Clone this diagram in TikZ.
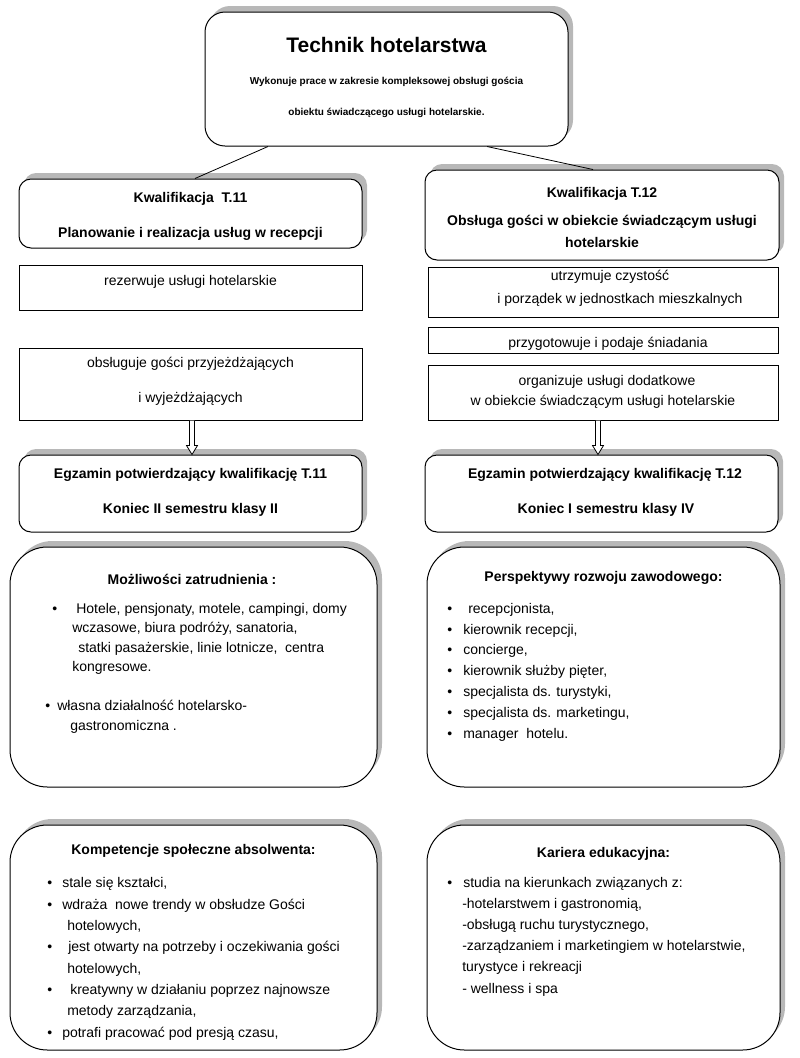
\documentclass[tikz,border=0pt]{standalone}
\usepackage{fontspec}
\setmainfont{Liberation Sans}
\usetikzlibrary{calc,shadows}

\newlength\unitpx
\setlength\unitpx{0.75pt}
% list lines: indent, bullet + indent
\newcommand{\li}[2]{\hspace*{#1\unitpx}#2}
\newcommand{\bli}[3]{\rlap{\hspace*{#1\unitpx}\textbullet}\hspace*{#2\unitpx}#3}
% hollow arrow between two named coordinates
\newcommand{\hollowarrow}[2]{%
  \draw [fill=white,line width=0.6pt] ($(#1)+(-2.5,0)$) -- ($(#2)+(-2.5,-9)$) -- ($(#2)+(-5.5,-9)$) -- (#2)
    -- ($(#2)+(5.5,-9)$) -- ($(#2)+(2.5,-9)$) -- ($(#1)+(2.5,0)$);}

\tikzset{
  box/.style 2 args={draw, fill=white, line width=0.75pt, inner sep=0pt,
    minimum width=#1*0.75pt, minimum height=#2*0.75pt},
  shad/.style={drop shadow={shadow xshift=3.75pt, shadow yshift=4.5pt, fill=black!28, opacity=1}},
  txt/.style={inner sep=0pt, anchor=base, font=\fontsize{10.5}{12}\selectfont},
  ttl/.style={inner sep=0pt, anchor=base, font=\fontsize{10.5}{12}\selectfont\bfseries},
  % anchored at the baseline of the last line
  lst/.style={inner sep=0pt, anchor=base west, align=left},
}

\begin{document}
\begin{tikzpicture}[x=0.75pt,y=0.75pt,yscale=-1,xscale=1]
\useasboundingbox (0,0) rectangle (800,1058);

% top box
\node [box={363}{134}, rounded corners=15pt, shad] (top) at (386.5,79) {};

% left column
\node [box={343}{69}, rounded corners=9pt, shad] (k11) at (190.5,213.5) {};
\node [box={343}{45}] (rez) at (190.5,287.5) {};
\node [box={343}{72}] (obs) at (190.5,384) {};
\node [box={343}{77}, rounded corners=9pt, shad] (eg11) at (190.5,493.5) {};

% right column
\node [box={354}{90}, rounded corners=9pt, shad] (k12) at (602,215) {};
\node [box={350}{50}] (utr) at (603,292) {};
\node [box={350}{26}] (prz) at (603,340) {};
\node [box={350}{55}] (org) at (603,392.5) {};
\node [box={353}{77}, rounded corners=9pt, shad] (eg12) at (601.5,493.5) {};

% lower boxes
\node [box={367}{240}, rounded corners=28pt, shad] (moz) at (193.5,667) {};
\node [box={353}{240}, rounded corners=28pt, shad] (per) at (603.5,667) {};
\node [box={367}{225}, rounded corners=28pt, shad] (kom) at (193.5,937.5) {};
\node [box={353}{225}, rounded corners=28pt, shad] (kar) at (603.5,937.5) {};

% connectors
\draw [line width=0.6pt] ($(top.south)+(-118.5,0)$) -- ($(k11.north)+(4.5,0)$);
\draw [line width=0.6pt] ($(top.south)+(100.5,0)$) -- ($(k12.north)+(-9,0)$);
\coordinate (a11) at ($(obs.south)+(1.5,0)$);
\coordinate (b11) at ($(eg11.north)+(1.5,0)$);
\coordinate (a12) at ($(org.south)+(-5,0)$);
\coordinate (b12) at ($(eg12.north |- eg11.north)+(-3.5,0)$);
\hollowarrow{a11}{b11}
\hollowarrow{a12}{b12}

% Text Node
\node [ttl, font=\fontsize{15.75}{18}\selectfont\bfseries] (t1) at (386.5,52) {Technik hotelarstwa};
\node [ttl, font=\fontsize{7.5}{9}\selectfont\bfseries] (t2) at (386.5,84) {Wykonuje prace w zakresie kompleksowej obsługi gościa};
\node [ttl, font=\fontsize{7.5}{9}\selectfont\bfseries] (t3) at (386.5,115) {obiektu świadczącego usługi hotelarskie.};

% Text Node
\node [ttl] (k11a) at (190.5,202) {Kwalifikacja\ \ T.11};
\node [ttl] (k11b) at (190.5,237) {Planowanie i realizacja usług w recepcji};
\node [txt] (reza) at (190.5,285) {rezerwuje usługi hotelarskie};
\node [txt] (obsa) at (190.5,367) {obsługuje gości przyjeżdżających};
\node [txt] (obsb) at (190.5,402) {i wyjeżdżających};
\node [ttl] (eg11a) at (190.5,478) {Egzamin potwierdzający kwalifikację T.11};
\node [ttl] (eg11b) at (190.5,513) {Koniec II semestru klasy II};

% Text Node
\node [ttl] (k12a) at (602,197) {Kwalifikacja T.12};
\node [ttl] (k12b) at (602,225) {Obsługa gości w obiekcie świadczącym usługi};
\node [ttl] (k12c) at (602,247) {hotelarskie};
\node [txt] (utra) at (610,280) {utrzymuje czystość};
\node [txt] (utrb) at (620,303) {i porządek w jednostkach mieszkalnych};
\node [txt] (prza) at (608,347) {przygotowuje i podaje śniadania};
\node [txt] (orga) at (607,385) {organizuje usługi dodatkowe};
\node [txt] (orgb) at (603,405) {w obiekcie świadczącym usługi hotelarskie};
\node [ttl] (eg12a) at (605,478) {Egzamin potwierdzający kwalifikację T.12};
\node [ttl] (eg12b) at (606,513) {Koniec I semestru klasy IV};

% Text Node
\node [ttl] (moza) at (192,584) {Możliwości zatrudnienia :};
\node [lst, font=\fontsize{10.5}{14.6}\selectfont] (mozl) at (45,730) {%
  \bli{7}{31}{Hotele, pensjonaty, motele, campingi, domy}\\
  \li{27}{wczasowe, biura podróży, sanatoria,}\\
  \li{33}{statki pasażerskie, linie lotnicze,\ \ centra}\\
  \li{27}{kongresowe.}\\
  \mbox{}\\
  \bli{0}{12}{własna działalność hotelarsko-}\\
  \li{25}{gastronomiczna .}};

\node [ttl] (pera) at (603.5,581) {Perspektywy rozwoju zawodowego:};
\node [lst, font=\fontsize{10.5}{15.6}\selectfont] (perl) at (447,738) {%
  \bli{0}{21}{recepcjonista,}\\
  \bli{0}{16}{kierownik recepcji,}\\
  \bli{0}{16}{concierge,}\\
  \bli{0}{16}{kierownik służby pięter,}\\
  \bli{0}{16}{specjalista ds. turystyki,}\\
  \bli{0}{16}{specjalista ds. marketingu,}\\
  \bli{0}{16}{manager\ \ hotelu.}};

\node [ttl] (koma) at (193.5,854) {Kompetencje społeczne absolwenta:};
\node [lst, font=\fontsize{10.5}{16}\selectfont] (koml) at (47,1037) {%
  \bli{0}{15}{stale się kształci,}\\
  \bli{0}{15}{wdraża\ \ nowe trendy w obsłudze Gości}\\
  \li{20}{hotelowych,}\\
  \bli{0}{21}{jest otwarty na potrzeby i oczekiwania gości}\\
  \li{20}{hotelowych,}\\
  \bli{0}{23}{kreatywny w działaniu poprzez najnowsze}\\
  \li{20}{metody zarządzania,}\\
  \bli{0}{15}{potrafi pracować pod presją czasu,}};

\node [ttl] (kara) at (603.5,857) {Kariera edukacyjna:};
\node [lst, font=\fontsize{10.5}{15.9}\selectfont] (karl) at (447,993) {%
  \bli{0}{16}{studia na kierunkach związanych z:}\\
  \li{15}{-hotelarstwem i gastronomią,}\\
  \li{15}{-obsługą ruchu turystycznego,}\\
  \li{15}{-zarządzaniem i marketingiem w hotelarstwie,}\\
  \li{15}{turystyce i rekreacji}\\
  \li{15}{- wellness i spa}};
\end{tikzpicture}
\end{document}
